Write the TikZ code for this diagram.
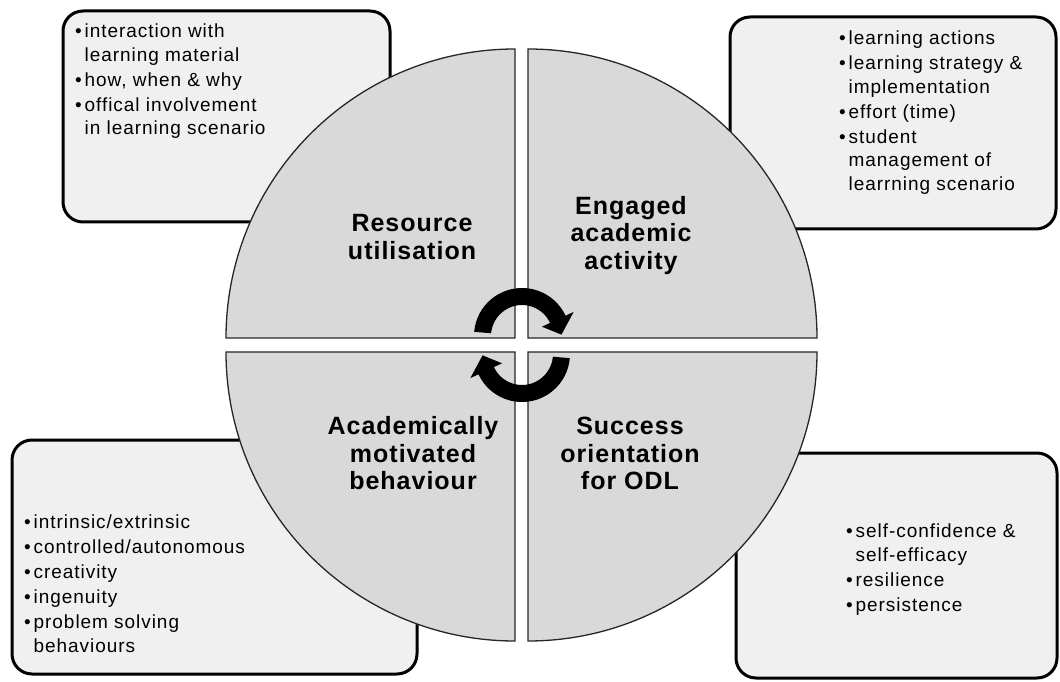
\documentclass[tikz,border=0pt]{standalone}
\usepackage{fontspec}
\setmainfont{Liberation Sans}
\newfontfamily\boxfont[LetterSpace=5]{Liberation Sans}
\newfontfamily\labfont[LetterSpace=4]{Liberation Sans}
\definecolor{boxgray}{HTML}{F0F0F0}
\definecolor{quadgray}{HTML}{D9D9D9}
\newcommand{\bul}{\makebox[9.5pt][l]{•}}
\newcommand{\ind}{\hspace*{9.5pt}}
\begin{document}
\begin{tikzpicture}[x=1pt,y=1pt,
  infobox/.style={draw=black, line width=3pt, fill=boxgray, rounded corners=20pt},
  quad/.style={draw=black!85, line width=1.3pt, fill=quadgray},
  cycarrow/.style={fill=black},
  lab/.style={align=center, inner sep=0pt, font=\labfont\bfseries\fontsize{25}{27.5}\selectfont},
  boxtxt/.style={align=left, inner sep=0pt, anchor=north west, font=\boxfont\fontsize{19}{23.5}\selectfont}]
\useasboundingbox (0,0) rectangle (1060,681);
% outer boxes
\path[infobox] (63,459) rectangle (390,670);
\path[infobox] (730,452) rectangle (1056,664);
\path[infobox] (12,7) rectangle (417,241);
\path[infobox] (736,3) rectangle (1057,228);
% quadrants
\path[quad] (515,343) -- (226,343) arc[start angle=180, end angle=90, radius=289] -- cycle;
\path[quad] (528,343) -- (528,632) arc[start angle=90, end angle=0, radius=289] -- cycle;
\path[quad] (515,329) -- (226,329) arc[start angle=180, end angle=270, radius=289] -- cycle;
\path[quad] (528,329) -- (817,329) arc[start angle=0, end angle=-90, radius=289] -- cycle;
% cycle arrows
\begin{scope}[shift={(522,345)}]
\path[cycarrow] (175:48) arc[start angle=175, end angle=25, radius=48] -- (25:57) -- (2:39.5) -- (25:22) -- (25:31) arc[start angle=25, end angle=175, radius=31] -- cycle;
\end{scope}
\begin{scope}[shift={(522,327)}]
\path[cycarrow] (355:48) arc[start angle=355, end angle=205, radius=48] -- (205:57) -- (182:39.5) -- (205:22) -- (205:31) arc[start angle=205, end angle=355, radius=31] -- cycle;
\end{scope}
% quadrant labels
\node[lab] (res) at (412,444) {Resource\\utilisation};
\node[lab] (eng) at (631,445.5) {Engaged\\academic\\activity};
\node[lab] (acm) at (413,227.5) {Academically\\motivated\\behaviour};
\node[lab] (suc) at (630,227.5) {Success\\orientation\\for ODL};
% box texts
\node[boxtxt] (tltxt) at (75,657) {\bul interaction with\\ \ind learning material\\[1.5pt] \bul how, when \& why\\[1.5pt] \bul offical involvement\\ \ind in learning scenario};
\node[boxtxt] (trtxt) at (839,650) {\bul learning actions\\[1.5pt] \bul learning strategy \&\\ \ind implementation\\[1.5pt] \bul effort (time)\\[1.5pt] \bul student\\ \ind management of\\ \ind learrning scenario};
\node[boxtxt] (bltxt) at (24,166) {\bul intrinsic/extrinsic\\[1.5pt] \bul controlled/autonomous\\[1.5pt] \bul creativity\\[1.5pt] \bul ingenuity\\[1.5pt] \bul problem solving\\ \ind behaviours};
\node[boxtxt] (brtxt) at (846,157) {\bul self-confidence \&\\ \ind self-efficacy\\[1.5pt] \bul resilience\\[1.5pt] \bul persistence};
\end{tikzpicture}
\end{document}
